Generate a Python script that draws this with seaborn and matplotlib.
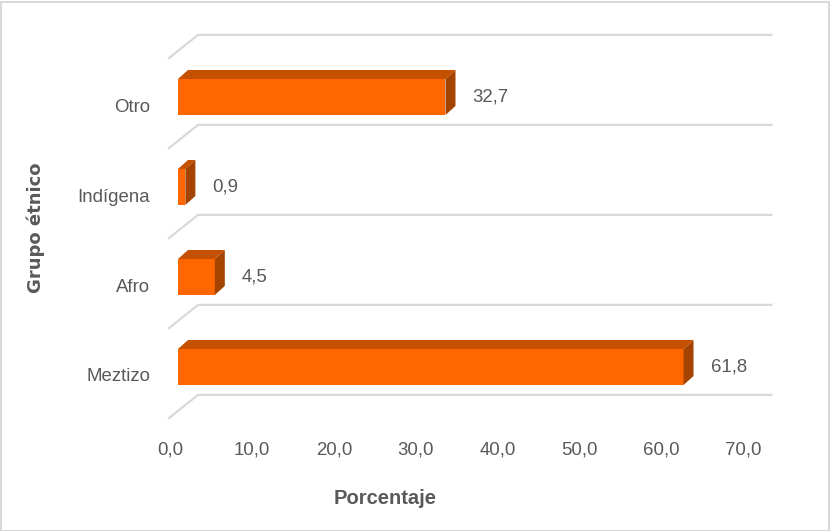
import matplotlib
matplotlib.use("Agg")
import matplotlib.pyplot as plt
import matplotlib.transforms as mtransforms
from matplotlib.patches import Polygon, Rectangle
from matplotlib.ticker import FuncFormatter
import seaborn as sns
import pandas as pd

# ---- data ----
categories = ["Otro", "Indígena", "Afro", "Meztizo"]
values = [32.7, 0.9, 4.5, 61.8]
x_ticks = [0, 10, 20, 30, 40, 50, 60, 70]
x_label = "Porcentaje"
y_label = "Grupo étnico"

df = pd.DataFrame({"grupo": categories, "pct": values})

# ---- style ----
sns.set_theme(style="white")
plt.rcParams["font.family"] = ["Liberation Sans", "DejaVu Sans"]
TXT = "#595959"
FRONT = "#FF6600"
TOP = "#C55000"
SIDE = "#A54300"
GRID = "#D9D9D9"
FS = 13.4

W, H, DPI = 830, 531, 100
fig = plt.figure(figsize=(W / DPI, H / DPI), dpi=DPI)
left_px, right_px, top_px, bot_px = 178, 750.6, 20, 430
ax = fig.add_axes([left_px / W, 1 - bot_px / H, (right_px - left_px) / W, (bot_px - top_px) / H])

sns.barplot(data=df, x="pct", y="grupo", orient="h", color=FRONT, saturation=1,
            width=0.4, ax=ax, zorder=3, linewidth=0, edgecolor="none")

xmax = 70
ax.set_xlim(0, xmax)
# y: category centre 0 at pixel 97, 90 px per category
px_per_cat = 90.0
ax.set_ylim((bot_px - 97) / px_per_cat, (top_px - 97) / px_per_cat)
px_per_x = (right_px - left_px) / xmax

def dxu(px):
    return px / px_per_x

def dyu(px):
    return px / px_per_cat

# 3D walls / gridlines at category boundaries
n = len(categories)
front_dx = dxu(-10)
back_end = xmax + dxu(22)
for k in range(n + 1):
    yb = -0.69 + k
    yf = yb + dyu(24)
    ax.plot([front_dx, front_dx + dxu(30), back_end], [yf, yb, yb],
            color=GRID, lw=1.6, clip_on=False, zorder=1, solid_capstyle="butt")

# bar depth faces
bh = 0.4
ddx, ddy = dxu(10), dyu(9)
for i, v in enumerate(values):
    t, b = i - bh / 2, i + bh / 2
    ax.add_patch(Polygon([(0, t), (v, t), (v + ddx, t - ddy), (ddx, t - ddy)],
                         closed=True, facecolor=TOP, edgecolor="none", zorder=3))
    ax.add_patch(Polygon([(v, t), (v + ddx, t - ddy), (v + ddx, b - ddy), (v, b)],
                         closed=True, facecolor=SIDE, edgecolor="none", zorder=3))
    ax.text(v + dxu(27), i, f"{v:.1f}".replace(".", ","), ha="left", va="center",
            fontsize=FS, color=TXT, zorder=4)

# ticks
ax.set_xticks(x_ticks)
ax.xaxis.set_major_formatter(FuncFormatter(lambda x, p: f"{x:.1f}".replace(".", ",")))
ax.tick_params(axis="x", length=0, pad=8.5, labelsize=FS, labelcolor=TXT)
ax.tick_params(axis="y", length=0, pad=20.2, labelsize=FS, labelcolor=TXT)
for lab in ax.get_xticklabels():
    lab.set_transform(lab.get_transform() + mtransforms.ScaledTranslation(-7.5 / DPI, 0, fig.dpi_scale_trans))
for lab in ax.get_yticklabels():
    lab.set_transform(lab.get_transform() + mtransforms.ScaledTranslation(0, -8 / DPI, fig.dpi_scale_trans))

ax.set_xlabel("")
ax.set_ylabel("")
for s in ax.spines.values():
    s.set_visible(False)
ax.grid(False)
ax.set_facecolor("none")

fig.text(385 / W, 1 - 498 / H, x_label, ha="center", va="center", fontsize=14.5,
         fontweight="bold", color=TXT)
fig.text(36 / W, 1 - 228 / H, y_label, ha="center", va="center", rotation=90,
         fontsize=13, fontweight="bold", color=TXT, family=["DejaVu Sans"])

fig.patches.append(Rectangle((0.5 / W, 0.5 / H), 1 - 2 / W, 1 - 2 / H, transform=fig.transFigure,
                             fill=False, edgecolor=GRID, lw=1.5))

fig.savefig("out.png", dpi=DPI, facecolor="white")
